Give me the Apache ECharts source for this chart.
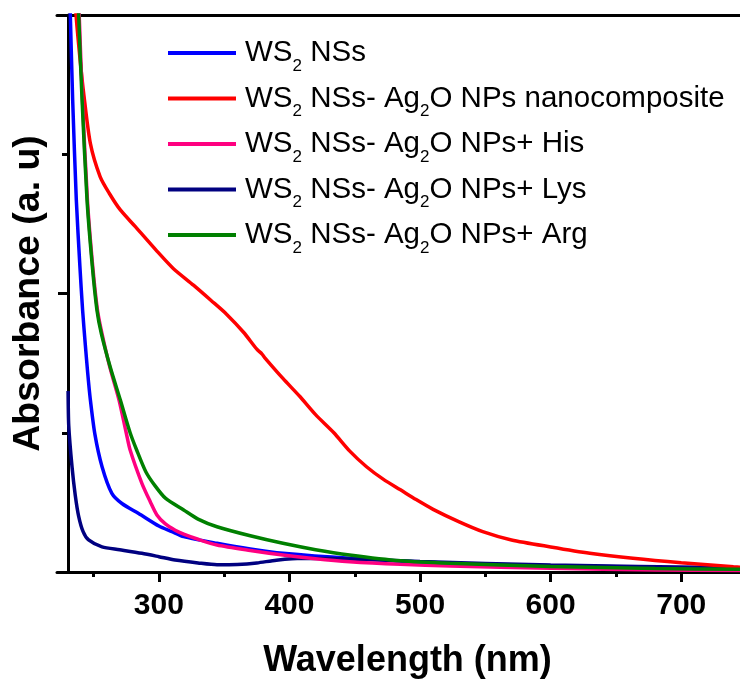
<!DOCTYPE html>
<html>
<head>
<meta charset="utf-8">
<script src="https://cdn.jsdelivr.net/npm/echarts@6/dist/echarts.min.js"></script>
<style>html,body{margin:0;padding:0;background:#fff}#c{width:740px;height:686px}</style>
</head>
<body>
<div id="c"></div>
<script>
var seriesNames = ['WS2 NSs', 'WS2 NSs- Ag2O NPs nanocomposite', 'WS2 NSs- Ag2O NPs+ His', 'WS2 NSs- Ag2O NPs+ Lys', 'WS2 NSs- Ag2O NPs+ Arg'];
var seriesColors = ['#0000FF', '#FF0000', '#FF0080', '#000080', '#008000'];
var xMajorTicks = [300, 400, 500, 600, 700];
var xMinorTicks = [250, 350, 450, 550, 650];

var wsNSs = [[231,4.4],[232.2,4.0],[234,3.39],[236.8,2.67],[239.5,2.2],[241.6,1.88],[243.7,1.63],[245.5,1.43],[247.5,1.24],[251,0.99],[256.5,0.756],[264,0.565],[272,0.49],[284.5,0.42],[300,0.33],[310,0.29],[319,0.254],[344.5,0.206],[370,0.165],[395,0.134],[446,0.098],[523,0.062],[600,0.045],[680,0.033],[746,0.025]];
var wsAgComposite = [[234,4.5],[236.6,4.0],[240,3.65],[242.4,3.44],[247.5,3.08],[255,2.84],[262,2.72],[270.5,2.6],[282,2.48],[298,2.31],[311,2.18],[326.5,2.06],[340,1.95],[352,1.85],[365,1.72],[375,1.6],[379,1.565],[381,1.54],[395,1.39],[408,1.26],[420,1.13],[434,1.0],[446,0.87],[459,0.756],[472,0.665],[485,0.59],[497,0.52],[510,0.45],[530,0.36],[548,0.29],[570,0.23],[600,0.18],[630,0.135],[663,0.098],[700,0.066],[740,0.038],[746,0.034]];
var wsAgHis = [[237.5,4.5],[239,4.0],[241.5,3.39],[245.3,2.67],[249.3,2.2],[253,1.88],[256.5,1.71],[262.5,1.47],[269.5,1.235],[275,1.0],[278,0.876],[287,0.637],[293.4,0.505],[298.5,0.41],[305,0.345],[312.5,0.3],[319,0.272],[330,0.235],[344.5,0.194],[370,0.155],[395,0.122],[420,0.095],[446,0.074],[485,0.055],[523,0.043],[600,0.027],[680,0.015],[746,0.01]];
var wsAgLys = [[230.5,1.3],[231,1.05],[233.5,0.756],[236,0.55],[238.6,0.4],[242,0.29],[246.2,0.23],[256.5,0.18],[270,0.16],[287,0.134],[300,0.11],[312.5,0.086],[330,0.065],[344.5,0.052],[360,0.054],[375,0.065],[390,0.085],[410,0.098],[430,0.097],[460,0.09],[500,0.075],[600,0.05],[746,0.03]];
var wsAgArg = [[237.5,4.5],[238.6,4.0],[241.2,3.39],[245,2.67],[249,2.2],[252.6,1.88],[256,1.71],[262.8,1.47],[270.5,1.235],[278,1.0],[283,0.876],[290,0.72],[297,0.62],[305,0.53],[319,0.445],[330,0.38],[344.5,0.325],[370,0.26],[395,0.206],[420,0.16],[446,0.122],[485,0.08],[523,0.062],[600,0.04],[680,0.025],[746,0.02]];

var seriesData = [wsNSs, wsAgComposite, wsAgHis, wsAgLys, wsAgArg];
var FONT = 'Arial, "Liberation Sans", sans-serif';
var XMIN = 222, XMAX = 745;

var chart = echarts.init(document.getElementById('c'), null, {renderer: 'canvas'});
var option = {
  backgroundColor: '#fff',
  animation: false,
  grid: {left: 57, right: 0, top: 15, bottom: 114, containLabel: false},
  legend: {
    orient: 'vertical', left: 168, top: 31, itemGap: 1.5, padding: 0,
    icon: 'rect', itemWidth: 68, itemHeight: 4,
    data: seriesNames,
    formatter: function (n) { return n.replace(/(WS|Ag)2/g, '$1{sub|2}'); },
    textStyle: {
      fontFamily: FONT, fontSize: 29.5, lineHeight: 44, color: '#000', padding: [0, 0, 0, 4],
      rich: {sub: {fontFamily: FONT, fontSize: 17, lineHeight: 17, color: '#000', padding: [26, 0, 0, 0]}}
    }
  },
  xAxis: [
    {
      type: 'value', position: 'bottom', min: XMIN, max: XMAX,
      name: 'Wavelength (nm)', nameLocation: 'middle', nameGap: 71,
      nameTextStyle: {fontFamily: FONT, fontSize: 36, fontWeight: 'bold', color: '#000', padding: [0, 0, 0, 18]},
      axisLine: {show: true, onZero: false, lineStyle: {color: '#000', width: 3}},
      axisTick: {show: true, inside: false, length: 10, customValues: xMajorTicks, lineStyle: {color: '#000', width: 3}},
      axisLabel: {show: true, customValues: xMajorTicks, margin: 19, fontFamily: FONT, fontSize: 30, fontWeight: 'bold', color: '#000'},
      splitLine: {show: false}
    },
    {
      type: 'value', position: 'bottom', min: XMIN, max: XMAX,
      axisLine: {show: false},
      axisTick: {show: true, length: 5, customValues: xMinorTicks, lineStyle: {color: '#000', width: 3}},
      axisLabel: {show: false},
      splitLine: {show: false}
    },
    {
      type: 'value', position: 'top', min: XMIN, max: XMAX,
      axisLine: {show: true, onZero: false, lineStyle: {color: '#000', width: 3}},
      axisTick: {show: false}, axisLabel: {show: false}, splitLine: {show: false}
    }
  ],
  yAxis: {
    type: 'value', min: 0, max: 4, interval: 2, position: 'left', offset: -11,
    name: 'Absorbance (a. u)', nameLocation: 'middle', nameGap: 20, nameRotate: 90,
    nameTextStyle: {fontFamily: FONT, fontSize: 37.5, fontWeight: 'bold', color: '#000'},
    axisLine: {show: true, onZero: false, lineStyle: {color: '#000', width: 3}},
    axisTick: {show: true, inside: false, length: 10, lineStyle: {color: '#000', width: 3}},
    minorTick: {show: true, splitNumber: 2, length: 6, lineStyle: {color: '#000', width: 3}},
    axisLabel: {show: false},
    splitLine: {show: false}
  },
  series: seriesNames.map(function (n, i) {
    return {
      name: n, type: 'line', xAxisIndex: 0, data: seriesData[i],
      showSymbol: false, symbol: 'none', smooth: 0.25, clip: true,
      lineStyle: {color: seriesColors[i], width: 3.5},
      itemStyle: {color: seriesColors[i]},
      z: [2, 3, 4, 2, 5][i]
    };
  })
};
chart.setOption(option);
</script>
</body>
</html>
